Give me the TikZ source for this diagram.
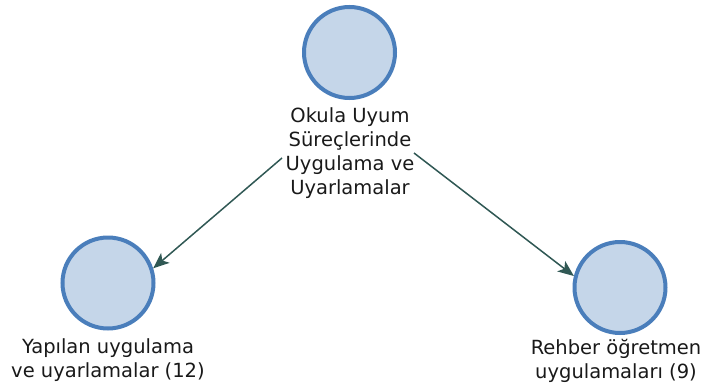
\documentclass[tikz,border=0pt]{standalone}
\usepackage{fontspec}
\setmainfont{DejaVu Sans}
\usetikzlibrary{arrows.meta}
\definecolor{ringblue}{RGB}{74,126,187}
\definecolor{fillblue}{RGB}{197,214,233}
\definecolor{linkteal}{RGB}{48,88,84}
\tikzset{
  bubble/.style={circle, draw=ringblue, fill=fillblue, line width=4pt, minimum size=91pt, inner sep=0pt},
  caption/.style={align=center, inner sep=0pt, font=\fontsize{19.5pt}{24pt}\selectfont, text=black!90},
  link/.style={draw=linkteal, line width=1.5pt, -{Stealth[length=16pt,width=13pt,inset=4pt]}}
}
\begin{document}
\begin{tikzpicture}[x=1pt,y=-1pt]
\useasboundingbox (0,0) rectangle (709,388);
\node[bubble] (top) at (349.5,52.5) {};
\node[bubble] (left) at (108,283) {};
\node[bubble] (right) at (620,287.5) {};
\node[caption] (toplabel) at (350,153) {Okula Uyum\\Süreçlerinde\\Uygulama ve\\Uyarlamalar};
\node[caption] (leftlabel) at (108,360) {Yapılan uygulama\\ve uyarlamalar (12)};
\node[caption] (rightlabel) at (616,361) {Rehber öğretmen\\uygulamaları (9)};
\coordinate (ls) at (282,158);
\coordinate (rs) at (414,153);
\draw[link] (ls) -- (left.18);
\draw[link] (rs) -- (right.166);
\end{tikzpicture}
\end{document}
